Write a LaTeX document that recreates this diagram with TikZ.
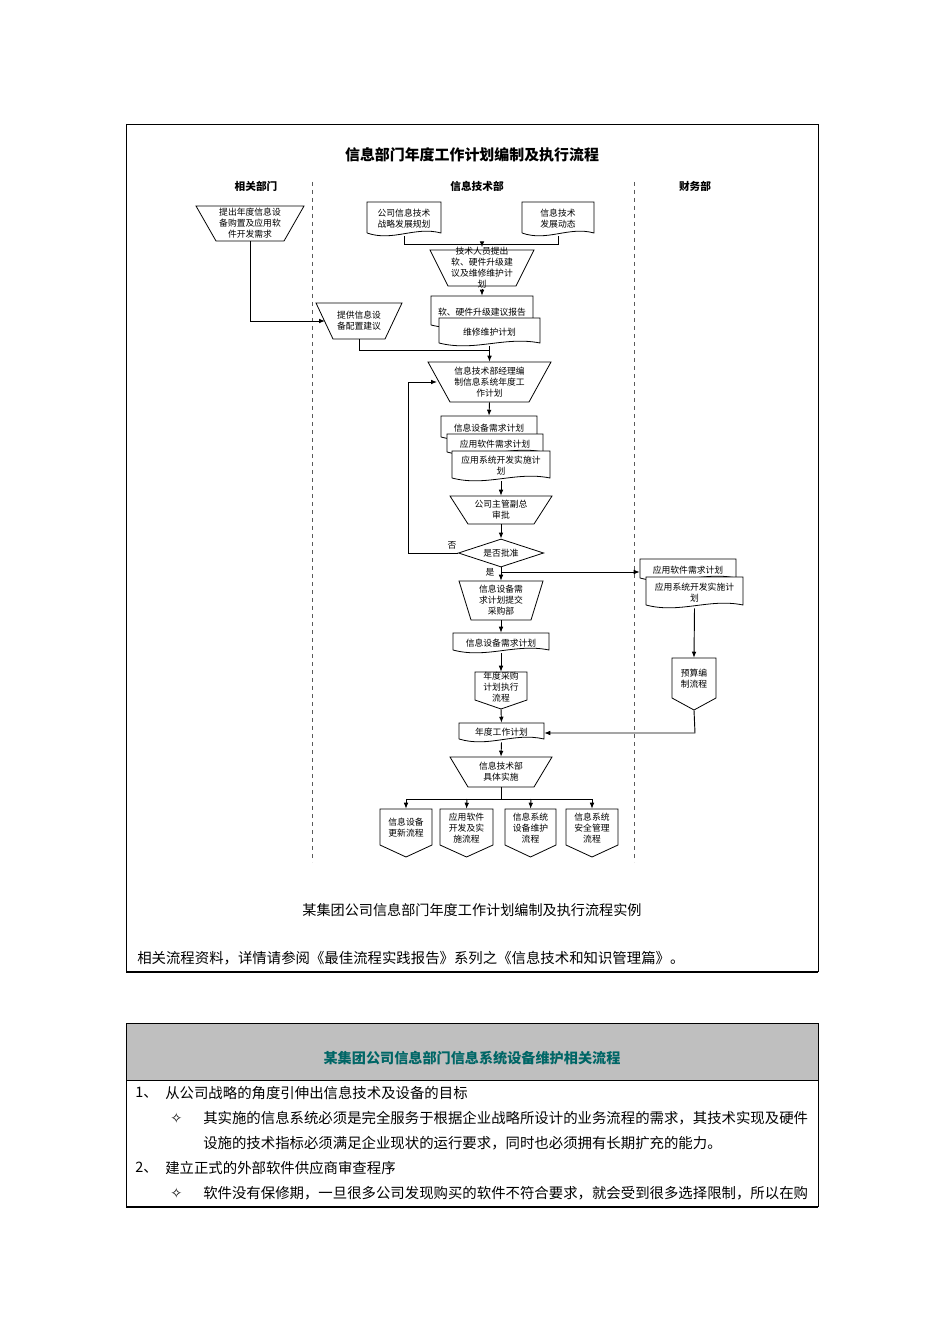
\documentclass[tikz,border=0pt]{standalone}
\usepackage{fontspec}
\setmainfont{Noto Sans CJK SC}
\newfontfamily\symf{DejaVu Sans}
\usetikzlibrary{arrows.meta,shapes.geometric}
\tikzset{
  lbl/.style={inner sep=0pt, align=center, font=\fontsize{6.6}{8.2}\selectfont},
  ln/.style={line width=0.7pt},
  arr/.style={line width=0.7pt,-{Latex[length=4.5pt,width=3.5pt]}},
  lane/.style={dashed, line width=0.6pt, gray!70!black},
  hdr/.style={font=\fontsize{8}{10}\selectfont\bfseries},
  body/.style={anchor=west, inner sep=0pt, font=\fontsize{10.8}{12}\selectfont}
}
\newcommand\docbox[6]{%
  \draw[fill=white,line width=0.6pt] (#2,#5) -- (#2,#3) -- (#4,#3) -- (#4,#5)
    .. controls ({#2+0.65*(#4-#2)},#5-7) and ({#2+0.35*(#4-#2)},#5+9) .. (#2,#5);
  \node[lbl, minimum width={(#4-#2)*0.75pt}, minimum height={(#5-#3+3)*0.75pt}] (#1) at ({(#2+#4)/2},{(#3+#5+3)/2}) {#6};}
\newcommand\trapz[7]{%
  \draw[fill=white,line width=0.6pt] (#2,#3) -- (#4,#3) -- (#4-#6,#5) -- (#2+#6,#5) -- cycle;
  \node[lbl, minimum width={(#4-#2)*0.75pt}, minimum height={(#5-#3)*0.75pt}] (#1) at ({(#2+#4)/2},{(#3+#5)/2}) {#7};}
\newcommand\offp[7]{%
  \draw[fill=white,line width=0.6pt] (#2,#3) -- (#4,#3) -- (#4,#5) -- ({(#2+#4)/2},#6) -- (#2,#5) -- cycle;
  \node[lbl, minimum width={(#4-#2)*0.75pt}, minimum height={(#6-#3)*0.75pt}] (#1) at ({(#2+#4)/2},{(#3+#6)/2}) {};
  \node[lbl] at ({(#2+#4)/2},{(#3+#5)/2+1}) {#7};}
\begin{document}
\begin{tikzpicture}[x=0.75pt,y=-0.75pt]
\useasboundingbox[fill=white] (0,0) rectangle (950,1344);
% frame
\draw[line width=0.6pt] (126,124) -- (818,124) -- (818,972) (126,124) -- (126,972);
\draw[line width=1.4pt] (126,972) -- (818,972);
\node[font=\fontsize{11.2}{12}\selectfont\bfseries] (title) at (472,155) {信息部门年度工作计划编制及执行流程};
\node[hdr] (h1) at (256,186) {相关部门};
\node[hdr] (h2) at (477,186) {信息技术部};
\node[hdr] (h3) at (695,186) {财务部};
\draw[lane] (312,182) -- (312,862);
\draw[lane] (634,182) -- (634,862);

\trapz{A}{196}{206}{304}{241}{20}{提出年度信息设\\备购置及应用软\\件开发需求}
\docbox{B}{367}{202}{441}{233}{公司信息技术\\战略发展规划}
\docbox{C}{522}{202}{594}{233}{信息技术\\发展动态}
\trapz{D}{430}{250}{534}{286}{18}{技术人员提出\\软、硬件升级建\\议及维修维护计\\划}
\docbox{E1}{431}{296}{533}{325}{软、硬件升级建议报告}
\docbox{E2}{439}{318}{540}{343}{维修维护计划}
\trapz{F}{316}{303}{402}{339}{17}{提供信息设\\备配置建议}
\trapz{G}{428}{362}{551}{402}{22}{信息技术部经理编\\制信息系统年度工\\作计划}
\docbox{H1}{441}{416}{537}{437}{信息设备需求计划}
\docbox{H2}{447}{434}{543}{452}{应用软件需求计划}
\docbox{H3}{452}{451}{550}{478}{应用系统开发实施计\\划}
\trapz{I}{450}{496}{552}{524}{18}{公司主管副总\\审批}
\node[diamond, draw, line width=0.6pt, aspect=3, inner sep=0pt, minimum width=64pt, minimum height=21pt, font=\fontsize{6.6}{8}\selectfont] (J) at (501,553) {是否批准};
\trapz{K}{459}{581}{543}{620}{12}{信息设备需\\求计划提交\\采购部}
\docbox{N}{453}{633}{549}{650}{信息设备需求计划}
\offp{O}{475}{672}{527}{700}{709}{年度采购\\计划执行\\流程}
\docbox{P}{459}{723}{544}{739}{年度工作计划}
\trapz{Q}{450}{757}{552}{787}{18}{信息技术部\\具体实施}
\docbox{L1}{640}{559}{736}{578}{应用软件需求计划}
\docbox{L2}{646}{577}{743}{605}{应用系统开发实施计\\划}
\offp{M}{672}{658}{716}{698}{710}{预算编\\制流程}
\offp{R1}{380}{809}{432}{845}{857}{信息设备\\更新流程}
\offp{R2}{440}{809}{493}{845}{857}{应用软件\\开发及实\\施流程}
\offp{R3}{505}{809}{556}{845}{857}{信息系统\\设备维护\\流程}
\offp{R4}{566}{809}{618}{845}{857}{信息系统\\安全管理\\流程}

% connectors
\draw[ln] (B.south) -- (B.south |- 0,244) -- (C.south |- 0,244) -- (C.south);
\draw[arr] (482,244) -- (D.north);
\draw[arr] (D.south) -- (E1.north);
\draw[arr] (A.south) -- (250,321) -- (325,321);
\draw[ln] (F.south) -- (359,350) -- (490,350);
\draw[arr] (E2.south) -- (G.north);
\draw[arr] (G.south) -- (H1.north);
\draw[arr] (H3.south) -- (I.north);
\draw[arr] (I.south) -- (J.north);
\draw[arr] (J.west) -- (408,553) -- (408,382) -- (437,382);
\node[lbl] (no) at (452,545) {否};
\draw[arr] (J.south) -- (K.north);
\node[lbl] (yes) at (490,572) {是};
\draw[arr] (501,572) -- (L1.west |- 0,572);
\draw[arr] (L2.south) -- (M.north);
\draw[arr] (K.south) -- (N.north);
\draw[arr] (N.south) -- (O.north);
\draw[arr] (O.south) -- (P.north);
\draw[arr] (M.south) -- (695,733) -- (P.east |- 0,733);
\draw[arr] (P.south) -- (Q.north);
\draw[ln] (Q.south) -- (501,799);
\draw[ln] (406,799) -- (592,799);
\draw[arr] (406,799) -- (R1.north);
\draw[arr] (467,799) -- (R2.north);
\draw[arr] (531,799) -- (R3.north);
\draw[arr] (592,799) -- (R4.north);

\node[font=\fontsize{10.6}{12}\selectfont] (cap) at (472,910) {某集团公司信息部门年度工作计划编制及执行流程实例};
\node[body] (ref) at (137,958) {相关流程资料，详情请参阅《最佳流程实践报告》系列之《信息技术和知识管理篇》。};

% second table
\fill[gray!50] (126,1023) rectangle (818,1080);
\draw[line width=0.6pt] (126,1023) rectangle (818,1080);
\draw[line width=0.6pt] (126,1080) -- (126,1207) (818,1080) -- (818,1207);
\draw[line width=1.4pt] (126,1207) -- (818,1207);
\node[font=\fontsize{10.6}{12}\selectfont\bfseries, text=teal!80!black] (t2) at (472,1058) {某集团公司信息部门信息系统设备维护相关流程};
\node[body] (l1n) at (135,1093) {1、};
\node[body] (l1) at (165,1093) {从公司战略的角度引伸出信息技术及设备的目标};
\node[body] (s1) at (170,1118) {\symf ✧};
\node[body] (l2) at (203,1118) {其实施的信息系统必须是完全服务于根据企业战略所设计的业务流程的需求，其技术实现及硬件};
\node[body] (l3) at (203,1143) {设施的技术指标必须满足企业现状的运行要求，同时也必须拥有长期扩充的能力。};
\node[body] (l4n) at (135,1168) {2、};
\node[body] (l4) at (165,1168) {建立正式的外部软件供应商审查程序};
\node[body] (s2) at (170,1193) {\symf ✧};
\node[body] (l5) at (203,1193) {软件没有保修期，一旦很多公司发现购买的软件不符合要求，就会受到很多选择限制，所以在购};
\end{tikzpicture}
\end{document}
